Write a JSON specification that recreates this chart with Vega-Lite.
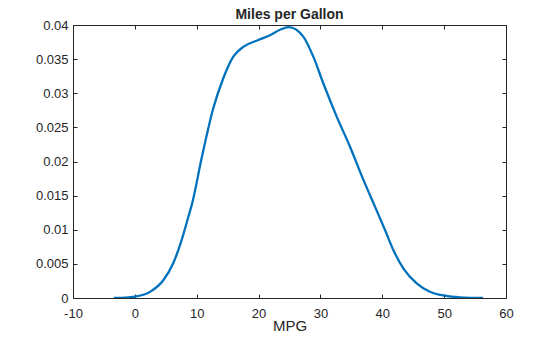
{
  "$schema": "https://vega.github.io/schema/vega-lite/v6.json",
  "autosize": {"type": "none"},
  "padding": {"left": 73, "top": 25, "right": 54, "bottom": 39},
  "width": 433,
  "height": 273,
  "background": "white",
  "config": {
    "font": "Liberation Sans",
    "view": {"stroke": "#262626", "strokeWidth": 1},
    "axis": {"grid": false, "labelFont": "Liberation Sans", "titleFont": "Liberation Sans", "labelColor": "#262626", "titleColor": "#262626", "tickColor": "#262626", "domainColor": "#262626"}
  },
  "title": {"text": "Miles per Gallon", "fontSize": 14, "fontWeight": "bold", "color": "#262626", "font": "Liberation Sans", "anchor": "middle", "offset": -3},
  "data": {"values": [
    {"x": -3.4, "y": 0},
    {"x": -1.5, "y": 0.00005},
    {"x": 0, "y": 0.0002},
    {"x": 2.45, "y": 0.0009},
    {"x": 4.6, "y": 0.0026},
    {"x": 6.2, "y": 0.0051},
    {"x": 7.57, "y": 0.0085},
    {"x": 8.65, "y": 0.0119},
    {"x": 9.3, "y": 0.014},
    {"x": 10.8, "y": 0.0205},
    {"x": 12.68, "y": 0.0278},
    {"x": 14.3, "y": 0.0322},
    {"x": 15.91, "y": 0.03536},
    {"x": 17.53, "y": 0.0368},
    {"x": 19.96, "y": 0.0378},
    {"x": 21.85, "y": 0.0385},
    {"x": 23.46, "y": 0.0393},
    {"x": 24.9, "y": 0.0397},
    {"x": 27.23, "y": 0.0383},
    {"x": 28.85, "y": 0.03536},
    {"x": 30.46, "y": 0.03146},
    {"x": 32.63, "y": 0.02657},
    {"x": 34.78, "y": 0.02217},
    {"x": 37.0, "y": 0.0172},
    {"x": 38.82, "y": 0.01338},
    {"x": 40.44, "y": 0.00996},
    {"x": 41.78, "y": 0.00703},
    {"x": 43.4, "y": 0.00435},
    {"x": 45.56, "y": 0.00215},
    {"x": 47.7, "y": 0.00092},
    {"x": 50.1, "y": 0.00034},
    {"x": 52.6, "y": 0.0001},
    {"x": 56.3, "y": 0}
  ]},
  "layer": [
    {
      "mark": {"type": "line", "color": "#0072BD", "strokeWidth": 2.3, "interpolate": "monotone", "clip": true},
      "encoding": {
        "x": {"field": "x", "type": "quantitative", "scale": {"domain": [-10, 60], "nice": false, "zero": false},
              "axis": {"orient": "bottom", "title": "MPG", "titleFontSize": 15, "titleFontWeight": "normal", "titlePadding": -2, "values": [-10, 0, 10, 20, 30, 40, 50, 60], "labelExpr": "'' + datum.value", "labelFontSize": 13, "tickSize": -4, "labelPadding": 13, "domain": false, "labelFlush": false}},
        "y": {"field": "y", "type": "quantitative", "scale": {"domain": [0, 0.04], "nice": false},
              "axis": {"orient": "left", "title": null, "values": [0, 0.005, 0.01, 0.015, 0.02, 0.025, 0.03, 0.035, 0.04], "format": "~g", "labelFontSize": 13, "tickSize": -4, "labelPadding": 9, "domain": false, "labelFlush": false}}
      }
    },
    {
      "mark": {"type": "line", "opacity": 0},
      "encoding": {
        "x": {"field": "x", "type": "quantitative", "axis": {"orient": "top", "title": null, "labels": false, "values": [-10, 0, 10, 20, 30, 40, 50, 60], "tickSize": -4, "domain": false}},
        "y": {"field": "y", "type": "quantitative", "axis": {"orient": "right", "title": null, "labels": false, "values": [0, 0.005, 0.01, 0.015, 0.02, 0.025, 0.03, 0.035, 0.04], "tickSize": -4, "domain": false}}
      }
    }
  ],
  "resolve": {"axis": {"x": "independent", "y": "independent"}}
}
